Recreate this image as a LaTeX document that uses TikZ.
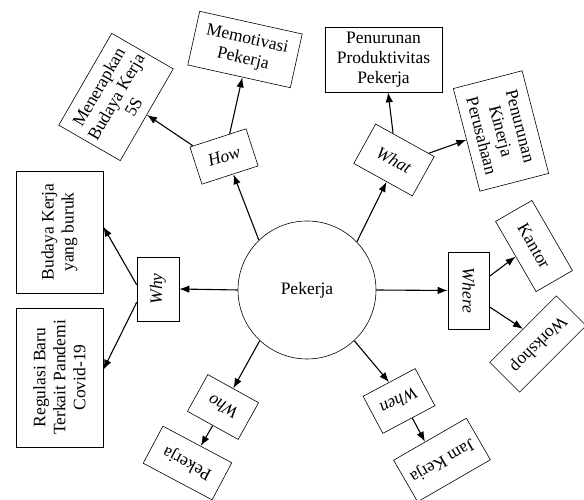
\documentclass[tikz,border=0pt]{standalone}
\usepackage{fontspec}
\setmainfont{Liberation Serif}
\usetikzlibrary{arrows.meta}
\begin{document}
\begin{tikzpicture}[x=1pt,y=1pt,
  box/.style={draw, line width=0.6pt, inner sep=0pt, align=center,
    font=\fontsize{17.5}{20}\selectfont},
  qbox/.style={box, font=\fontsize{17.5}{20}\selectfont\itshape},
  arr/.style={line width=1.1pt, -{Latex[length=10pt,width=7.5pt]}}]
\useasboundingbox (0,0) rectangle (584,500);
\clip (0,0) rectangle (584,500);
% centre
\node[circle, draw, line width=0.6pt, minimum size=138pt, inner sep=0pt,
  font=\fontsize{17.5}{20}\selectfont] (c) at (307,210) {Pekerja};
% why
\node[qbox, rotate=90, minimum width=64pt, minimum height=42pt] (why) at (158,211) {Why};
\node[box, rotate=90, minimum width=122pt, minimum height=87pt] (budaya) at (59.5,268) {Budaya Kerja\\yang buruk};
\node[box, rotate=90, minimum width=139pt, minimum height=87pt] (reg) at (59.5,122.5) {Regulasi Baru\\Terkait Pandemi\\Covid-19};
% how
\node[qbox, rotate=18, minimum width=59pt, minimum height=39pt] (how) at (224,343.5) {How};
\node[box, rotate=-12.5, minimum width=105pt, minimum height=55pt] (memo) at (245,450.5) {Memotivasi\\Pekerja};
\node[box, rotate=60, minimum width=106pt, minimum height=71pt] (men) at (116,403) {Menerapkan\\Budaya Kerja\\5S};
% what
\node[qbox, rotate=-29, minimum width=67pt, minimum height=45pt] (what) at (394,340) {What};
\node[box, minimum width=117pt, minimum height=65pt] (prod) at (383.5,440.5) {Penurunan\\Produktivitas\\Pekerja};
\node[box, rotate=-75.5, minimum width=106pt, minimum height=71pt] (kin) at (501,369) {Penurunan\\Kinerja\\Perusahaan};
% where
\node[qbox, rotate=-90, minimum width=77pt, minimum height=41pt] (where) at (468.5,209.5) {Where};
\node[box, rotate=-60, minimum width=81pt, minimum height=42pt] (kantor) at (534,254) {Kantor};
\node[box, rotate=225, minimum width=94pt, minimum height=42pt] (work) at (538,156) {Workshop};
% when
\node[qbox, rotate=208, minimum width=59pt, minimum height=42pt] (when) at (399,99) {When};
\node[box, rotate=210, minimum width=84pt, minimum height=48pt] (jam) at (442,40) {Jam Kerja};
% who
\node[qbox, rotate=151, minimum width=58pt, minimum height=42pt] (who) at (223,93) {Who};
\node[box, rotate=152, minimum width=78pt, minimum height=42pt] (pek) at (187.5,37) {Pekerja};
% arrows
\draw[arr] (c.180) -- (why.south);
\draw[arr] (why.79) -- (budaya.-83);
\draw[arr] (why.122) -- (reg.-80);
\draw[arr] (c.134) -- (how.-80);
\draw[arr] (how.58) -- (memo.-83);
\draw[arr] (how.143) -- (men.south);
\draw[arr] (c.44) -- (what.-80);
\draw[arr] (what.121) -- (prod.-82);
\draw[arr] (what.40) -- (kin.south);
\draw[arr] (c.0) -- (where.south);
\draw[arr] (where.124) -- (kantor.south);
\draw[arr] (where.52) -- (work.south);
\draw[arr] (c.-47) -- (when.south);
\draw[arr] (when.100) -- (jam.-77);
\draw[arr] (c.-133) -- (who.south);
\draw[arr] (who.north) -- (pek.-100);
\end{tikzpicture}
\end{document}
